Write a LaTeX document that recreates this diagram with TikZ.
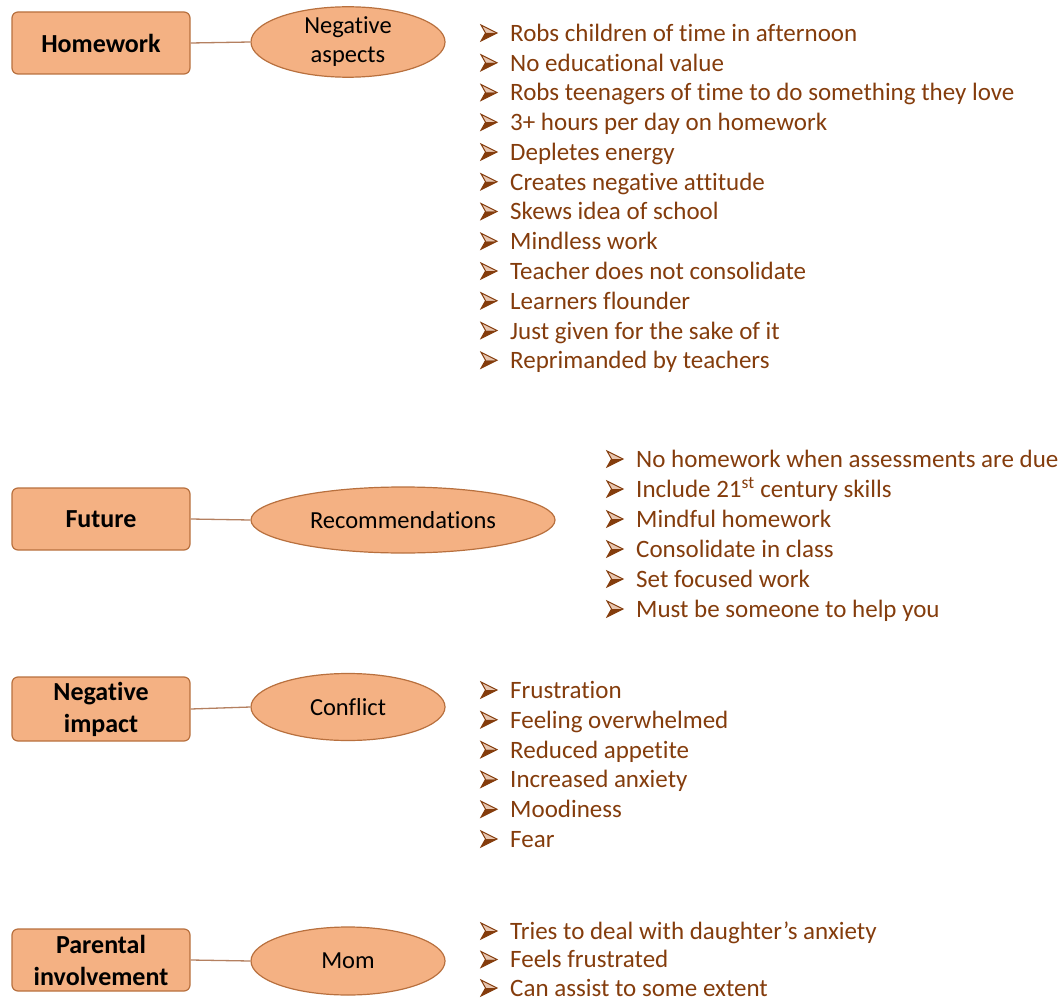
\documentclass[tikz,border=0pt]{standalone}
\usepackage{fontspec}
\setmainfont[RawFeature=-liga]{Carlito}
\usetikzlibrary{shapes.geometric}
\definecolor{boxfill}{HTML}{F4B183}
\definecolor{boxline}{HTML}{B8703E}
\definecolor{itemtext}{HTML}{843C0C}
\definecolor{bulletlight}{HTML}{E8C6B0}
\definecolor{linkline}{HTML}{B48060}
\tikzset{
  x=1pt, y=-1pt,
  topic/.style={draw=boxline, line width=1.2pt, fill=boxfill, rounded corners=6pt,
    minimum width=178pt, minimum height=62pt, align=center,
    font=\fontsize{26}{32}\selectfont\bfseries, inner sep=0pt},
  sub/.style={draw=boxline, line width=1.2pt, fill=boxfill, ellipse, inner sep=0pt,
    minimum height=64pt, align=center, font=\fontsize{24.5}{29}\selectfont},
  link/.style={draw=linkline, line width=1.3pt},
  entry/.style={anchor=west, inner sep=0pt, text=itemtext,
    font=\fontsize{25}{28}\selectfont, text height=14pt, text depth=2pt},
  % three-dimensional arrowhead bullet: light upper half, dark lower half
  arrowbullet/.pic={
    \fill[bulletlight] (0,-8) -- (16,0) -- (4.5,0) -- cycle;
    \fill[itemtext] (0,8) -- (16,0) -- (4.5,0) -- cycle;
    \draw[itemtext, line width=1pt, line join=miter] (0,-8) -- (16,0) -- (0,8) -- (4.5,0) -- cycle;
  },
}
\begin{document}
\begin{tikzpicture}
\useasboundingbox (0,0) rectangle (1060,1003);

% Topic boxes
\node[topic] (t1) at (101,43) {Homework};
\node[topic] (t2) at (101,519) {Future};
\node[topic, minimum height=64pt] (t3) at (101,709) {Negative\\impact};
\node[topic] (t4) at (101,960) {Parental\\involvement};

% Sub-topic ellipses
\node[sub, minimum width=194pt] (s1) at (348,42) {Negative\\aspects};
\node[sub, minimum width=304pt, minimum height=66pt] (s2) at (403,520) {Recommendations};
\node[sub, minimum width=194pt, minimum height=67pt] (s3) at (348,707) {Conflict};
\node[sub, minimum width=194pt, minimum height=68pt] (s4) at (348,961) {Mom};

% Links
\draw[link] (t1.east) -- (s1.west);
\draw[link] (t2.east) -- (s2.west);
\draw[link] (t3.east) -- (s3.west);
\draw[link] (t4.east) -- (s4.west);

% Bullet lists
\foreach \txt [count=\i] in {
  Robs children of time in afternoon,
  No educational value,
  Robs teenagers of time to do something they love,
  3+ hours per day on homework,
  Depletes energy,
  Creates negative attitude,
  Skews idea of school,
  Mindless work,
  Teacher does not consolidate,
  Learners flounder,
  Just given for the sake of it,
  Reprimanded by teachers}
{
  \pgfmathsetmacro\yy{33+(\i-1)*29.75}
  \pic at (481,\yy) {arrowbullet};
  \node[entry] (a\i) at (510,\yy+2.5) {\txt};
}

\foreach \txt [count=\i] in {
  No homework when assessments are due,
  {Include 21\textsuperscript{st} century skills},
  Mindful homework,
  Consolidate in class,
  Set focused work,
  Must be someone to help you}
{
  \pgfmathsetmacro\yy{459+(\i-1)*30}
  \pic at (607,\yy) {arrowbullet};
  \node[entry] (b\i) at (636,\yy+2.5) {\txt};
}

\foreach \txt [count=\i] in {
  Frustration,
  Feeling overwhelmed,
  Reduced appetite,
  Increased anxiety,
  Moodiness,
  Fear}
{
  \pgfmathsetmacro\yy{690+(\i-1)*29.8}
  \pic at (481,\yy) {arrowbullet};
  \node[entry] (c\i) at (510,\yy+2.5) {\txt};
}

\foreach \txt [count=\i] in {
  Tries to deal with daughter’s anxiety,
  Feels frustrated,
  Can assist to some extent}
{
  \pgfmathsetmacro\yy{931+(\i-1)*28.5}
  \pic at (481,\yy) {arrowbullet};
  \node[entry] (d\i) at (510,\yy+2) {\txt};
}
\end{tikzpicture}
\end{document}
